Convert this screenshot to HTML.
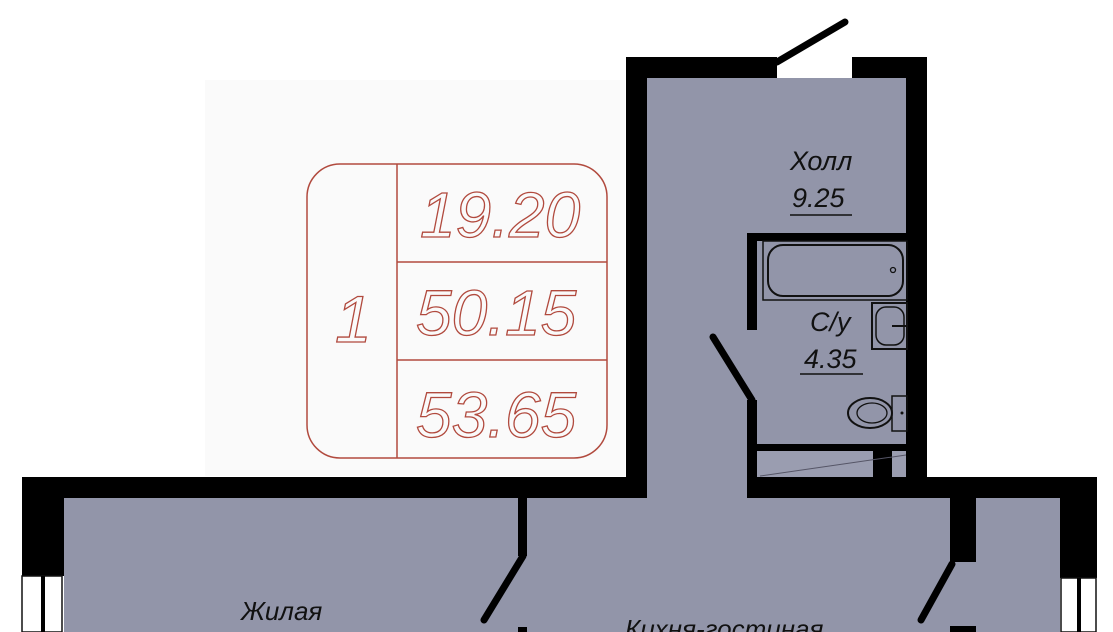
<!DOCTYPE html>
<html><head><meta charset="utf-8"><style>
html,body{margin:0;padding:0;background:#fff;}
svg{display:block;}
.t{font-family:"Liberation Sans","DejaVu Sans",sans-serif;font-style:italic;fill:#111;}
.r{font-family:"Liberation Sans","DejaVu Sans",sans-serif;font-style:italic;fill:none;stroke:#b14a3e;stroke-width:1.3;}
</style></head><body>
<svg width="1113" height="632" viewBox="0 0 1113 632" xmlns="http://www.w3.org/2000/svg">
<rect x="0" y="0" width="1113" height="632" fill="#fff"/>
<rect x="205" y="80" width="420" height="396" fill="#fafafa"/>
<rect x="647" y="78" width="259" height="422" fill="#9295a9"/>
<rect x="64" y="498" width="996" height="134" fill="#9295a9"/>
<rect x="757" y="241" width="150" height="204" fill="#9295a9"/>
<rect x="757" y="451" width="150" height="26" fill="#9a9db0"/>
<rect x="626" y="57" width="151" height="21" fill="#000"/>
<rect x="852" y="57" width="75" height="21" fill="#000"/>
<rect x="626" y="57" width="21" height="441" fill="#000"/>
<rect x="906" y="57" width="21" height="441" fill="#000"/>
<line x1="777" y1="62" x2="845" y2="22" stroke="#000" stroke-width="7" stroke-linecap="round"/>
<rect x="747" y="233" width="160" height="8" fill="#000"/>
<rect x="747" y="233" width="10" height="97" fill="#000"/>
<rect x="747" y="400" width="10" height="98" fill="#000"/>
<line x1="713" y1="337" x2="752" y2="400" stroke="#000" stroke-width="7" stroke-linecap="round"/>
<rect x="757" y="444" width="150" height="7" fill="#000"/>
<rect x="873" y="451" width="19" height="27" fill="#000"/>
<line x1="760" y1="476" x2="906" y2="455" stroke="#556" stroke-width="1"/>
<rect x="763" y="241" width="144" height="59" fill="none" stroke="#111" stroke-width="1.5"/>
<rect x="768" y="245" width="135" height="51" rx="15" fill="none" stroke="#111" stroke-width="2"/>
<circle cx="893" cy="270" r="2.5" fill="none" stroke="#111" stroke-width="1.3"/>
<rect x="872" y="303" width="35" height="46" fill="none" stroke="#111" stroke-width="2"/>
<rect x="876" y="307" width="28" height="38" rx="10" fill="none" stroke="#111" stroke-width="1.5"/>
<line x1="892" y1="326" x2="906" y2="326" stroke="#111" stroke-width="2"/>
<rect x="892" y="396" width="15" height="35" fill="none" stroke="#111" stroke-width="1.5"/>
<circle cx="902" cy="413" r="1.5" fill="#111"/>
<ellipse cx="870" cy="413" rx="22" ry="15" fill="none" stroke="#111" stroke-width="2"/>
<ellipse cx="872" cy="413" rx="15" ry="10" fill="none" stroke="#111" stroke-width="1.3"/>
<rect x="22" y="477" width="625" height="21" fill="#000"/>
<rect x="747" y="477" width="350" height="21" fill="#000"/>
<rect x="22" y="477" width="42" height="99" fill="#000"/>
<rect x="22" y="576" width="40" height="56" fill="#fff" stroke="#111" stroke-width="1.5"/>
<line x1="43" y1="576" x2="43" y2="632" stroke="#000" stroke-width="4"/>
<rect x="1060" y="477" width="37" height="101" fill="#000"/>
<rect x="1061" y="578" width="35" height="54" fill="#fff" stroke="#111" stroke-width="1.5"/>
<line x1="1079" y1="578" x2="1079" y2="632" stroke="#000" stroke-width="4"/>
<rect x="518" y="498" width="9" height="58" fill="#000"/>
<line x1="523" y1="556" x2="484" y2="620" stroke="#000" stroke-width="7" stroke-linecap="round"/>
<rect x="518" y="627" width="9" height="5" fill="#000"/>
<rect x="950" y="498" width="26" height="64" fill="#000"/>
<line x1="952" y1="564" x2="921" y2="620" stroke="#000" stroke-width="7" stroke-linecap="round"/>
<rect x="950" y="626" width="26" height="6" fill="#000"/>
<text class="t" x="790" y="170" font-size="27">Холл</text>
<text class="t" x="792" y="207" font-size="27">9.25</text>
<line x1="790" y1="215" x2="852" y2="215" stroke="#111" stroke-width="1.5"/>
<text class="t" x="810" y="331" font-size="27">С/у</text>
<text class="t" x="804" y="368" font-size="27">4.35</text>
<line x1="800" y1="374" x2="863" y2="374" stroke="#111" stroke-width="1.5"/>
<text class="t" x="241" y="620" font-size="26">Жилая</text>
<text class="t" x="625" y="638" font-size="26">Кихня-гостиная</text>
<rect x="307" y="164" width="300" height="294" rx="33" fill="none" stroke="#b14a3e" stroke-width="1.5"/>
<line x1="397" y1="164" x2="397" y2="458" stroke="#b14a3e" stroke-width="1.5"/>
<line x1="397" y1="262" x2="607" y2="262" stroke="#b14a3e" stroke-width="1.5"/>
<line x1="397" y1="360" x2="607" y2="360" stroke="#b14a3e" stroke-width="1.5"/>
<text class="r" x="335" y="342" font-size="66">1</text>
<text class="r" x="420" y="237" font-size="64">19.20</text>
<text class="r" x="416" y="335" font-size="64">50.15</text>
<text class="r" x="416" y="437" font-size="64">53.65</text>
</svg>
</body></html>
